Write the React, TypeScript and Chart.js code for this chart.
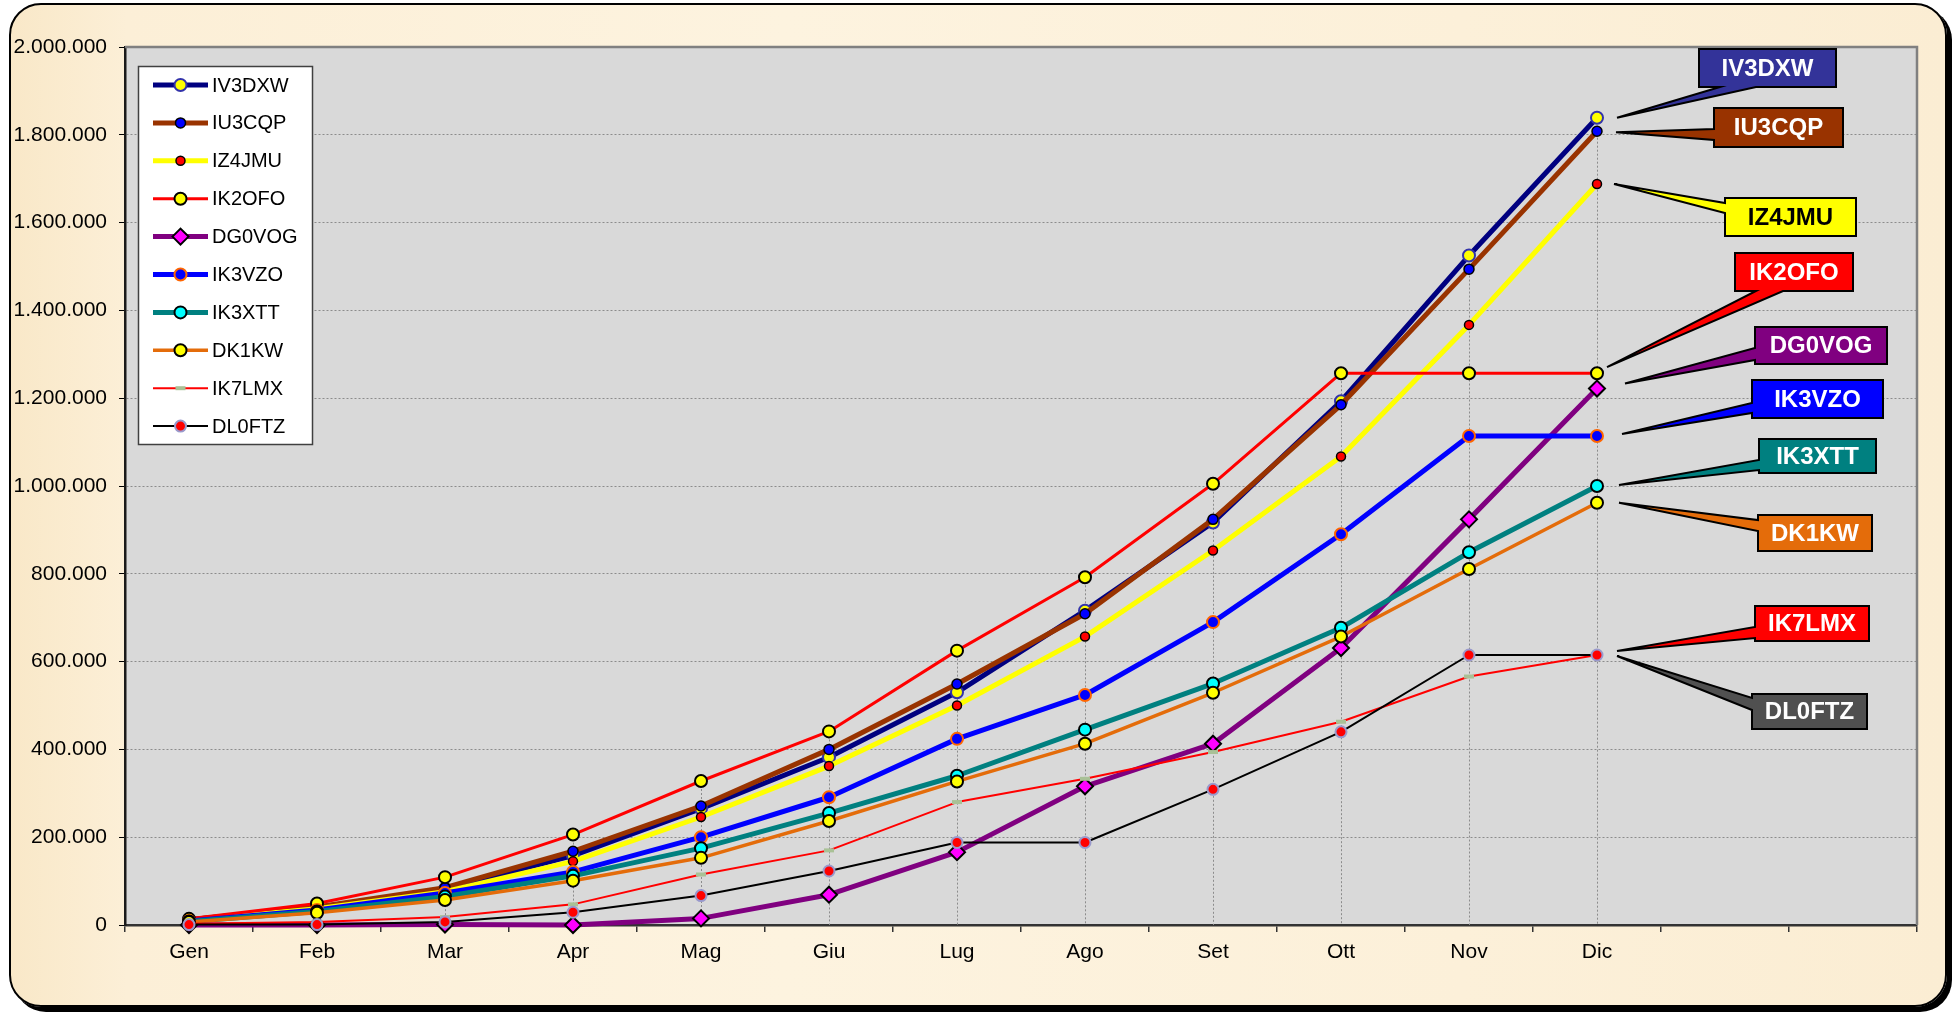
import React, { useEffect, useRef } from 'react';
import { Chart, registerables } from 'chart.js';

Chart.register(...registerables);

// ---------- DATA ----------
const months = ['Gen', 'Feb', 'Mar', 'Apr', 'Mag', 'Giu', 'Lug', 'Ago', 'Set', 'Ott', 'Nov', 'Dic', '', ''];
const seriesNames = ['IV3DXW', 'IU3CQP', 'IZ4JMU', 'IK2OFO', 'DG0VOG', 'IK3VZO', 'IK3XTT', 'DK1KW', 'IK7LMX', 'DL0FTZ'];

const IV3DXW = [12000, 40000, 82000, 158000, 265000, 382000, 530000, 716000, 917000, 1193000, 1525000, 1839000];
const IU3CQP = [12000, 41000, 85000, 168000, 271000, 400000, 549000, 709000, 924000, 1185000, 1494000, 1808000];
const IZ4JMU = [10000, 37000, 76000, 145000, 246000, 362000, 500000, 657000, 853000, 1067000, 1367000, 1688000];
const IK2OFO = [14000, 49000, 109000, 206000, 328000, 441000, 625000, 792000, 1005000, 1257000, 1257000, 1257000];
const DG0VOG = [0, 0, 1000, 0, 15000, 69000, 166000, 316000, 413000, 631000, 924000, 1222000];
const IK3VZO = [9000, 34000, 73000, 121000, 200000, 291000, 424000, 524000, 690000, 890000, 1114000, 1114000];
const IK3XTT = [8000, 31000, 65000, 112000, 175000, 255000, 340000, 445000, 550000, 677000, 849000, 1000000];
const DK1KW = [7000, 28000, 57000, 101000, 153000, 237000, 327000, 413000, 529000, 657000, 811000, 962000];
const IK7LMX = [3000, 7000, 18000, 47000, 115000, 170000, 280000, 333000, 394000, 463000, 566000, 615000];
const DL0FTZ = [1000, 1000, 7000, 29000, 67000, 123000, 188000, 188000, 309000, 440000, 615000, 615000];

const seriesValues = [IV3DXW, IU3CQP, IZ4JMU, IK2OFO, DG0VOG, IK3VZO, IK3XTT, DK1KW, IK7LMX, DL0FTZ];

const yMin = 0;
const yMax = 2000000;
const yStep = 200000;

// ---------- STYLES ----------
const FONT = '"Liberation Sans", Arial, Helvetica, sans-serif';

type SeriesStyle = {
  line: string; width: number; point: string; fill: string; stroke: string; pw: number; r: number;
};
const styles: SeriesStyle[] = [
  { line: '#000080', width: 5, point: 'circle', fill: '#FFFF00', stroke: '#3333AA', pw: 2, r: 6 },
  { line: '#993300', width: 5, point: 'circle', fill: '#0000FF', stroke: '#000000', pw: 1.5, r: 5 },
  { line: '#FFFF00', width: 5, point: 'circle', fill: '#FF0000', stroke: '#000000', pw: 1.5, r: 4.5 },
  { line: '#FF0000', width: 3, point: 'circle', fill: '#FFFF00', stroke: '#000000', pw: 2, r: 6 },
  { line: '#800080', width: 5, point: 'rectRot', fill: '#FF00FF', stroke: '#000000', pw: 2, r: 8 },
  { line: '#0000FF', width: 5, point: 'circle', fill: '#0000FF', stroke: '#FF6600', pw: 2, r: 6 },
  { line: '#008080', width: 5, point: 'circle', fill: '#00FFFF', stroke: '#000000', pw: 2, r: 6 },
  { line: '#E46C0A', width: 3.5, point: 'circle', fill: '#FFFF00', stroke: '#000000', pw: 2, r: 6 },
  { line: '#FF0000', width: 2, point: 'line', fill: '#A9C196', stroke: '#A9C196', pw: 4, r: 5 },
  { line: '#000000', width: 2, point: 'circle', fill: '#FF0000', stroke: '#9999CC', pw: 2, r: 5.5 },
];

// callout boxes: [x, y, w, h], tail edge, tail base (two coords along edge), tip offset from last point
type Callout = { box: number[]; color: string; text: string; edge: 'left' | 'bottom'; base: number[]; tip: number[] };
const callouts: Callout[] = [
  { box: [1699, 49, 137, 38], color: '#333399', text: '#FFFFFF', edge: 'bottom', base: [1720, 1756], tip: [20, 0] },
  { box: [1714, 108, 129, 39], color: '#993300', text: '#FFFFFF', edge: 'left', base: [129, 140], tip: [19, 1] },
  { box: [1725, 198, 131, 38], color: '#FFFF00', text: '#000000', edge: 'left', base: [203, 213], tip: [17, 0] },
  { box: [1735, 253, 118, 38], color: '#FF0000', text: '#FFFFFF', edge: 'bottom', base: [1756, 1783], tip: [10, -6] },
  { box: [1755, 327, 132, 37], color: '#800080', text: '#FFFFFF', edge: 'left', base: [348, 360], tip: [28, -5] },
  { box: [1752, 380, 131, 38], color: '#0000FF', text: '#FFFFFF', edge: 'left', base: [403, 413], tip: [25, -2] },
  { box: [1759, 439, 117, 34], color: '#008080', text: '#FFFFFF', edge: 'left', base: [460, 470], tip: [22, -1] },
  { box: [1758, 515, 114, 36], color: '#E46C0A', text: '#FFFFFF', edge: 'left', base: [520, 531], tip: [22, 0] },
  { box: [1755, 606, 114, 35], color: '#FF0000', text: '#FFFFFF', edge: 'left', base: [627, 638], tip: [20, -4] },
  { box: [1752, 694, 115, 35], color: '#505050', text: '#FFFFFF', edge: 'left', base: [698, 710], tip: [20, 1] },
];

function formatIt(v: number): string {
  const s = Math.round(v).toString();
  return s.replace(/\B(?=(\d{3})+(?!\d))/g, '.');
}

function drawMarker(ctx: CanvasRenderingContext2D, st: SeriesStyle, x: number, y: number) {
  ctx.save();
  ctx.fillStyle = st.fill;
  ctx.strokeStyle = st.stroke;
  ctx.lineWidth = st.pw;
  ctx.beginPath();
  if (st.point === 'line') {
    ctx.moveTo(x - st.r, y);
    ctx.lineTo(x + st.r, y);
    ctx.stroke();
    ctx.restore();
    return;
  }
  if (st.point === 'rectRot') {
    ctx.moveTo(x - st.r, y);
    ctx.lineTo(x, y - st.r);
    ctx.lineTo(x + st.r, y);
    ctx.lineTo(x, y + st.r);
    ctx.closePath();
  } else {
    ctx.arc(x, y, st.r, 0, Math.PI * 2);
  }
  ctx.fill();
  ctx.stroke();
  ctx.restore();
}

const decorPlugin = {
  id: 'decor',
  beforeDraw(chart: any) {
    const { ctx, chartArea: a } = chart;
    ctx.save();
    ctx.fillStyle = '#D9D9D9';
    ctx.fillRect(a.left, a.top, a.right - a.left, a.bottom - a.top);
    ctx.restore();
  },
  beforeDatasetsDraw(chart: any) {
    const { ctx, chartArea: a } = chart;
    const xs = chart.scales.x;
    const ys = chart.scales.y;
    ctx.save();
    ctx.strokeStyle = '#808080';
    ctx.lineWidth = 2.5;
    ctx.beginPath();
    ctx.moveTo(a.left, a.top);
    ctx.lineTo(a.right, a.top);
    ctx.lineTo(a.right, a.bottom);
    ctx.stroke();
    // drop lines
    ctx.strokeStyle = '#8C8C8C';
    ctx.lineWidth = 1;
    ctx.setLineDash([2, 2]);
    for (let i = 0; i < months.length; i++) {
      let maxV: number | null = null;
      chart.data.datasets.forEach((ds: any) => {
        const v = ds.data[i];
        if (v != null && (maxV == null || v > maxV)) maxV = v;
      });
      if (maxV == null) continue;
      const px = Math.round(xs.getPixelForValue(i)) + 0.5;
      const py = ys.getPixelForValue(maxV);
      ctx.beginPath();
      ctx.moveTo(px, py);
      ctx.lineTo(px, a.bottom);
      ctx.stroke();
    }
    ctx.restore();
  },
  afterDraw(chart: any) {
    const { ctx } = chart;
    const xs = chart.scales.x;
    const ys = chart.scales.y;

    // legend
    const lx = 138, ly = 66, lw = 174, lh = 378;
    ctx.save();
    ctx.fillStyle = '#FFFFFF';
    ctx.fillRect(lx, ly, lw, lh);
    ctx.strokeStyle = '#404040';
    ctx.lineWidth = 1.5;
    ctx.strokeRect(lx + 0.5, ly + 0.5, lw, lh);
    ctx.font = `20px ${FONT}`;
    ctx.textBaseline = 'middle';
    ctx.textAlign = 'left';
    seriesNames.forEach((name, i) => {
      const st = styles[i];
      const cy = 85 + i * 37.9;
      ctx.strokeStyle = st.line;
      ctx.lineWidth = st.width;
      ctx.beginPath();
      ctx.moveTo(153, cy);
      ctx.lineTo(208, cy);
      ctx.stroke();
      drawMarker(ctx, st, 180.5, cy);
      ctx.fillStyle = '#000000';
      ctx.fillText(name, 212, cy + 1);
    });
    ctx.restore();

    // callouts
    ctx.save();
    callouts.forEach((c, i) => {
      const vals = seriesValues[i];
      const last = vals.length - 1;
      const px = xs.getPixelForValue(last) + c.tip[0];
      const py = ys.getPixelForValue(vals[last]) + c.tip[1];
      const [x, y, w, h] = c.box;
      ctx.beginPath();
      if (c.edge === 'left') {
        ctx.moveTo(x, y);
        ctx.lineTo(x + w, y);
        ctx.lineTo(x + w, y + h);
        ctx.lineTo(x, y + h);
        ctx.lineTo(x, c.base[1]);
        ctx.lineTo(px, py);
        ctx.lineTo(x, c.base[0]);
        ctx.closePath();
      } else {
        ctx.moveTo(x, y);
        ctx.lineTo(x + w, y);
        ctx.lineTo(x + w, y + h);
        ctx.lineTo(c.base[1], y + h);
        ctx.lineTo(px, py);
        ctx.lineTo(c.base[0], y + h);
        ctx.lineTo(x, y + h);
        ctx.closePath();
      }
      ctx.fillStyle = c.color;
      ctx.fill();
      ctx.strokeStyle = '#000000';
      ctx.lineWidth = 2;
      ctx.lineJoin = 'miter';
      ctx.stroke();
      ctx.fillStyle = c.text;
      ctx.font = `bold 24px ${FONT}`;
      ctx.textAlign = 'center';
      ctx.textBaseline = 'middle';
      ctx.fillText(seriesNames[i], x + w / 2, y + h / 2 + 1);
    });
    ctx.restore();
  },
};

export default function App() {
  const canvasRef = useRef<HTMLCanvasElement | null>(null);

  useEffect(() => {
    if (!canvasRef.current) return;
    const datasets = seriesNames.map((name, i) => {
      const st = styles[i];
      return {
        label: name,
        data: seriesValues[i],
        borderColor: st.line,
        backgroundColor: st.line,
        borderWidth: st.width,
        pointStyle: st.point,
        pointRadius: st.r,
        pointBackgroundColor: st.fill,
        pointBorderColor: st.stroke,
        pointBorderWidth: st.pw,
        tension: 0,
        borderJoinStyle: 'round',
        fill: false,
        clip: false,
        order: seriesNames.length - i,
      };
    });

    const chart = new Chart(canvasRef.current, {
      type: 'line',
      data: { labels: months, datasets: datasets as any },
      options: {
        animation: false,
        responsive: false,
        maintainAspectRatio: false,
        layout: { padding: { left: 0, right: 41, top: 47, bottom: 30 } },
        plugins: {
          legend: { display: false },
          tooltip: { enabled: false },
          title: { display: false },
        },
        scales: {
          x: {
            type: 'category',
            offset: true,
            grid: {
              offset: true,
              drawOnChartArea: false,
              drawTicks: true,
              tickLength: 7,
              color: '#333333',
              tickColor: '#333333',
              lineWidth: 1.5,
            },
            border: { display: true, color: '#333333', width: 2.5 },
            ticks: {
              autoSkip: false,
              maxRotation: 0,
              color: '#000000',
              font: { family: FONT, size: 21 },
              padding: 8,
            },
            afterFit: (s: any) => { s.height = 60; },
          },
          y: {
            min: yMin,
            max: yMax,
            ticks: {
              stepSize: yStep,
              color: '#000000',
              font: { family: FONT, size: 21 },
              padding: 12,
              callback: (v: any) => formatIt(Number(v)),
            },
            grid: {
              color: '#8C8C8C',
              lineWidth: 1,
              drawTicks: true,
              tickLength: 6,
              tickColor: '#000000',
            },
            border: { display: true, color: '#1A1A1A', width: 2.5, dash: [2, 2] },
            afterFit: (s: any) => { s.width = 125; },
          },
        },
      } as any,
      plugins: [decorPlugin],
    });
    return () => chart.destroy();
  }, []);

  return (
    <div style={{ position: 'fixed', left: 0, top: 0, width: 1958, height: 1015, background: '#FFFFFF', overflow: 'hidden' }}>
      <div
        style={{
          position: 'absolute',
          left: 9,
          top: 3,
          width: 1938,
          height: 1004,
          boxSizing: 'border-box',
          border: '2px solid #000',
          borderRadius: 32,
          boxShadow: '5px 5px 0 #000',
          background: 'linear-gradient(90deg, #F9E8C8 0%, #FCEFD7 6%, #FDF3DF 40%, #FCF0D9 75%, #FBEDD3 100%)',
        }}
      />
      <canvas ref={canvasRef} width={1958} height={1015} style={{ position: 'absolute', left: 0, top: 0, width: 1958, height: 1015 }} />
    </div>
  );
}
